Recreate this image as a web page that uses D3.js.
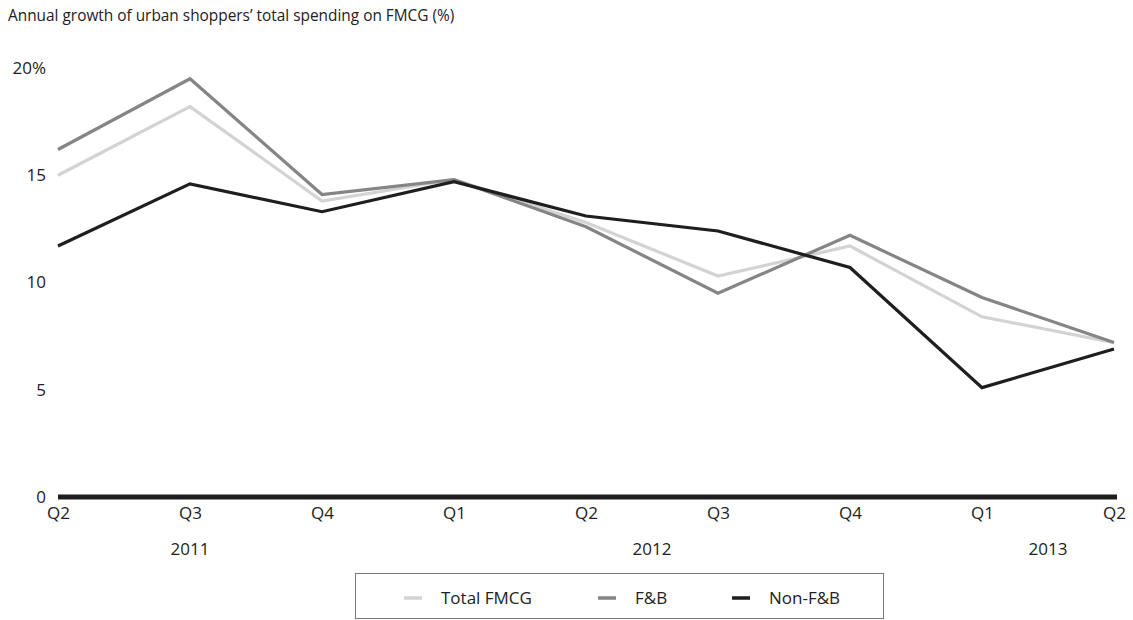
<!DOCTYPE html>
<html>
<head>
<meta charset="utf-8">
<script src="https://cdn.jsdelivr.net/npm/d3@7"></script>
<style>
  body { margin: 0; background: #fff; }
  text { font-family: "Open Sans", Lato, sans-serif; fill: #222; }
</style>
</head>
<body>
<script>
// données du graphique
var periods = ["2011Q2", "2011Q3", "2011Q4", "2012Q1", "2012Q2", "2012Q3", "2012Q4", "2013Q1", "2013Q2"];
var quarterLabels = ["Q2", "Q3", "Q4", "Q1", "Q2", "Q3", "Q4", "Q1", "Q2"];
var years = ["2011", "2012", "2013"];
// position des années: entre le premier et le dernier trimestre de l'année
var yearSpan = [["2011Q2", "2011Q4"], ["2012Q1", "2012Q4"], ["2013Q1", "2013Q2"]];

var totalFmcg = [15.0, 18.2, 13.8, 14.8, 12.8, 10.3, 11.7, 8.4, 7.2];
var fAndB     = [16.2, 19.5, 14.1, 14.8, 12.6, 9.5, 12.2, 9.3, 7.2];
var nonFAndB  = [11.7, 14.6, 13.3, 14.7, 13.1, 12.4, 10.7, 5.1, 6.9];

var yTicks = [0, 5, 10, 15, 20];
var seriesNames = ["Total FMCG", "F&B", "Non-F&B"];
var seriesColors = ["#d3d3d3", "#858585", "#1e1e1e"];

var title = "Annual growth of urban shoppers\u2019 total spending on FMCG (%)";

var series = [totalFmcg, fAndB, nonFAndB];

var width = 1133, height = 620;

var svg = d3.select("body").append("svg")
    .attr("width", width)
    .attr("height", height);

svg.append("text")
    .attr("x", 8)
    .attr("y", 21)
    .style("font-size", "15.4px")
    .text(title);

var x = d3.scalePoint().domain(periods).range([58, 1114]);
var y = d3.scaleLinear().domain([0, 20]).range([497, 68]);

// axe Y
var yAxis = svg.append("g")
    .attr("transform", "translate(46,0)")
    .call(d3.axisLeft(y).tickValues(yTicks).tickSize(0).tickPadding(0)
        .tickFormat(function(d) { return d === 20 ? d + "%" : d; }));
yAxis.select(".domain").remove();
yAxis.selectAll("text").style("font-size", "17px").attr("dy", "0.32em");

// ligne de base
svg.append("line")
    .attr("x1", 58)
    .attr("x2", 1117)
    .attr("y1", y(0))
    .attr("y2", y(0))
    .attr("stroke", "#1e1e1e")
    .attr("stroke-width", 5);

// axe X: trimestres
var xAxis = svg.append("g")
    .attr("transform", "translate(0," + (y(0) + 3) + ")")
    .call(d3.axisBottom(x).tickSize(0).tickPadding(7)
        .tickFormat(function(d, i) { return quarterLabels[i]; }));
xAxis.select(".domain").remove();
xAxis.selectAll("text").style("font-size", "17px");

// années
svg.append("g")
    .selectAll("text")
    .data(years)
    .enter()
    .append("text")
    .attr("x", function(d, i) { return (x(yearSpan[i][0]) + x(yearSpan[i][1])) / 2; })
    .attr("y", 555)
    .attr("text-anchor", "middle")
    .style("font-size", "17px")
    .text(function(d) { return d; });

// lignes
var line = d3.line()
    .x(function(d, i) { return x(periods[i]); })
    .y(function(d) { return y(d); });

svg.append("g")
    .selectAll("path")
    .data(series)
    .enter()
    .append("path")
    .attr("d", line)
    .attr("fill", "none")
    .attr("stroke", function(d, i) { return seriesColors[i]; })
    .attr("stroke-width", 3.2)
    .attr("stroke-linejoin", "miter");

// légende
svg.append("rect")
    .attr("x", 355.5)
    .attr("y", 573.5)
    .attr("width", 528)
    .attr("height", 45)
    .attr("fill", "none")
    .attr("stroke", "#777")
    .attr("stroke-width", 1);

var legendX = [404, 598, 732];
var legend = svg.append("g")
    .selectAll("g")
    .data(seriesNames)
    .enter()
    .append("g")
    .attr("transform", function(d, i) { return "translate(" + legendX[i] + ",598)"; });

legend.append("line")
    .attr("x1", 0)
    .attr("x2", 18)
    .attr("stroke", function(d, i) { return seriesColors[i]; })
    .attr("stroke-width", 3.5);

legend.append("text")
    .attr("x", 37)
    .attr("dy", "0.35em")
    .style("font-size", "17px")
    .text(function(d) { return d; });
</script>
</body>
</html>
